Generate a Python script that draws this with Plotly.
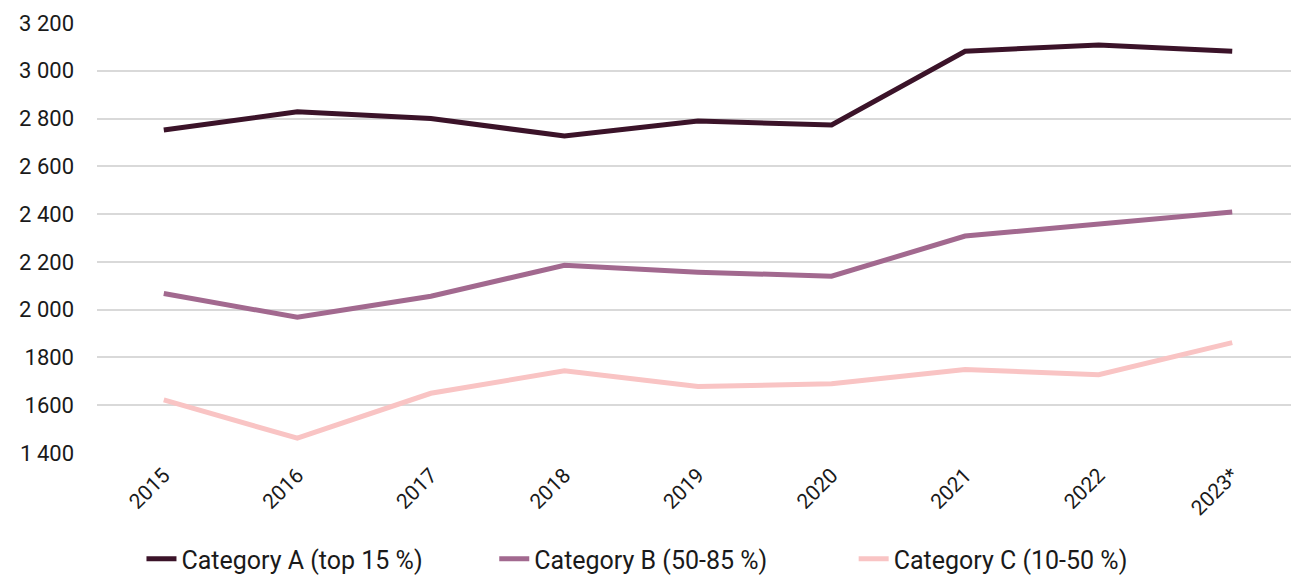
import plotly.graph_objects as go

years = ['2015', '2016', '2017', '2018', '2019', '2020', '2021', '2022', '2023*']
cat_a = [2752, 2828, 2800, 2727, 2790, 2773, 3082, 3108, 3082]
cat_b = [2068, 1968, 2056, 2186, 2157, 2140, 2308, 2358, 2409]
cat_c = [1622, 1462, 1650, 1744, 1678, 1690, 1750, 1728, 1862]

tick_vals = [1400, 1600, 1800, 2000, 2200, 2400, 2600, 2800, 3000, 3200]
tick_text = ['1\u2009400', '1600', '1800', '2 000', '2 200', '2 400',
             '2 600', '2 800', '3 000', '3 200']

fig = go.Figure()
fig.add_trace(go.Scatter(x=years, y=cat_a, mode='lines', name='Category A (top 15 %)',
                         line=dict(color='#3b1329', width=5), legend='legend'))
fig.add_trace(go.Scatter(x=years, y=cat_b, mode='lines', name='Category B (50-85 %)',
                         line=dict(color='#a2698f', width=5), legend='legend2'))
fig.add_trace(go.Scatter(x=years, y=cat_c, mode='lines', name='Category C (10-50 %)',
                         line=dict(color='#f9c4c4', width=5), legend='legend3'))

# legends sit at the very bottom, kept inside the margin so the plot area doesn't shrink
leg = dict(orientation='h', xanchor='left', y=-0.300, yanchor='bottom',
           font=dict(size=25), bgcolor='rgba(0,0,0,0)')

fig.update_layout(
    width=1291, height=575,
    margin=dict(l=89, r=0, t=15, b=130),
    plot_bgcolor='white', paper_bgcolor='white',
    font=dict(family='Roboto, sans-serif', size=22, color='#1a1a1a'),
    showlegend=True,
    legend=dict(leg, x=0.037),
    legend2=dict(leg, x=0.3305),
    legend3=dict(leg, x=0.6295),
    xaxis=dict(showgrid=False, showline=False, tickangle=-45, ticks='',
               range=[-0.5, 8.5], automargin=False, ticklabelstandoff=5,
               tickfont=dict(size=21)),
    yaxis=dict(range=[1400, 3200], tickvals=tick_vals, ticktext=tick_text,
               gridcolor='#d9d9d9', gridwidth=1.5, zeroline=False, showline=False,
               automargin=False, ticks='', ticklabelstandoff=22, tickfont=dict(size=22)),
)

fig.write_html("out.html")
